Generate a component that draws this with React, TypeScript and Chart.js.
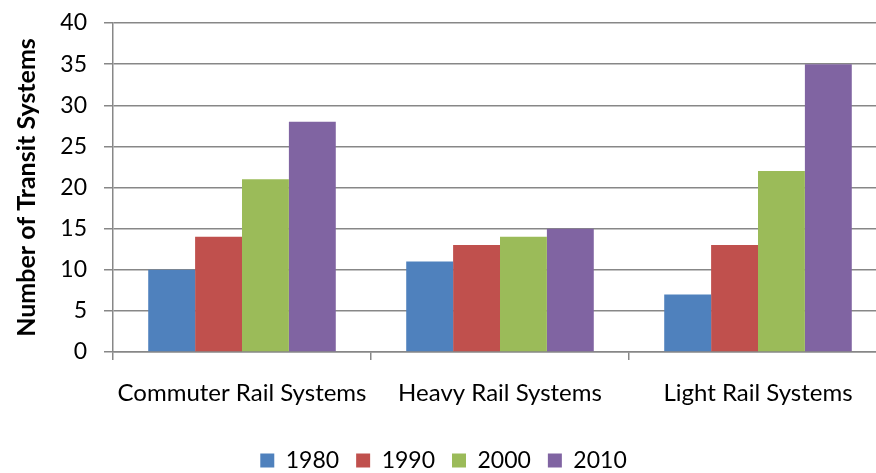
import React, { useEffect, useRef } from "react";
import { Chart, registerables } from "chart.js";

Chart.register(...registerables);

const categories = ["Commuter Rail Systems", "Heavy Rail Systems", "Light Rail Systems"];
const seriesNames = ["1980", "1990", "2000", "2010"];
const values1980 = [10, 11, 7];
const values1990 = [14, 13, 13];
const values2000 = [21, 14, 22];
const values2010 = [28, 15, 35];
const seriesColors = ["#4F81BD", "#C0504D", "#9BBB59", "#8064A2"];
const yTitle = "Number of Transit Systems";

const FONT = "Lato, 'Open Sans', sans-serif";
const GRID = "#878787";

export default function App() {
  const ref = useRef<HTMLCanvasElement | null>(null);

  useEffect(() => {
    const canvas = ref.current;
    if (!canvas) return;
    const allValues = [values1980, values1990, values2000, values2010];
    const chart = new Chart(canvas, {
      type: "bar",
      data: {
        labels: categories,
        datasets: seriesNames.map((name, i) => ({
          label: name,
          data: allValues[i],
          backgroundColor: seriesColors[i],
          borderWidth: 0,
          categoryPercentage: 0.727,
          barPercentage: 1,
        })),
      },
      options: {
        animation: false,
        responsive: false,
        devicePixelRatio: 1,
        layout: { padding: { left: 0, right: 3, top: 23, bottom: 3 } },
        plugins: {
          tooltip: { enabled: false },
          legend: {
            position: "bottom",
            labels: {
              boxWidth: 14,
              boxHeight: 14,
              padding: 17,
              color: "#000",
              font: { family: FONT, size: 23 },
            },
          },
        },
        scales: {
          x: {
            afterFit: (s: any) => {
              s.height = 80;
              s.paddingLeft = 0;
              s.paddingRight = 0;
            },
            grid: {
              drawOnChartArea: false,
              drawTicks: true,
              tickLength: 8,
              color: GRID,
              lineWidth: 1.5,
            },
            border: { display: true, color: GRID, width: 1.5 },
            ticks: {
              color: "#000",
              padding: 19,
              font: { family: FONT, size: 24 },
              maxRotation: 0,
            },
          },
          y: {
            min: 0,
            max: 40,
            afterFit: (s: any) => {
              s.width = 113;
              s.paddingTop = 0;
              s.paddingBottom = 0;
            },
            grid: {
              color: GRID,
              lineWidth: 1.5,
              drawTicks: true,
              tickLength: 9,
            },
            border: { display: true, color: GRID, width: 1.5 },
            ticks: {
              stepSize: 5,
              color: "#000",
              padding: 17,
              font: { family: FONT, size: 23 },
            },
            title: {
              display: true,
              text: yTitle,
              color: "#000",
              padding: { top: 12, bottom: 0 },
              font: { family: FONT, size: 25, weight: "bold" },
            },
          },
        },
      },
    });
    return () => chart.destroy();
  }, []);

  return (
    <div
      style={{
        position: "absolute",
        left: 0,
        top: 0,
        width: 876,
        height: 473,
        overflow: "hidden",
        background: "#fff",
      }}
    >
      <canvas ref={ref} width={890} height={485} style={{ display: "block" }} />
    </div>
  );
}
